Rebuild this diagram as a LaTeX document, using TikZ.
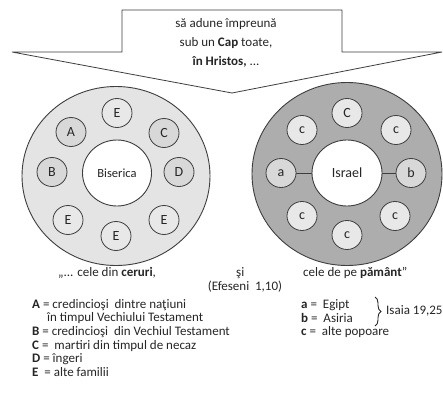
\documentclass[tikz,border=0pt]{standalone}
\usepackage{fontspec}
\setmainfont{Carlito}
\usetikzlibrary{shapes.geometric,decorations.pathreplacing}
\definecolor{lineC}{HTML}{3E3E3E}
\definecolor{outerL}{HTML}{E4E4E4}
\definecolor{outerR}{HTML}{ADADAD}
\definecolor{smallPlain}{HTML}{E8E8E8}
\definecolor{smallTex}{HTML}{D8D8D8}
\definecolor{txt}{HTML}{262626}
\begin{document}
\begin{tikzpicture}[x=1pt,y=-1pt,
  every node/.style={text=txt},
  outerring/.style={ellipse,draw=lineC,line width=0.9pt,inner sep=0pt},
  innerdisc/.style={ellipse,draw=lineC,line width=0.9pt,fill=white,inner sep=0pt,minimum width=69pt,minimum height=66pt,font=\fontsize{12.5}{14}\selectfont},
  member/.style={ellipse,draw=lineC,line width=0.8pt,inner sep=0pt,minimum width=30pt,minimum height=29pt,font=\fontsize{14}{16}\selectfont},
  plainm/.style={member,fill=smallPlain},
  texm/.style={member,fill=smallTex},
  calltext/.style={font=\fontsize{13}{15}\selectfont},
  legend/.style={anchor=west,inner sep=0pt,font=\fontsize{13}{15}\selectfont},
  link/.style={draw=lineC,line width=0.9pt}
]
\useasboundingbox[fill=white] (0,0) rectangle (443,401);

% callout
\draw[draw=lineC,line width=0.8pt,fill=white,line join=miter]
  (122,10) -- (342,10) -- (342,52) -- (442,52) -- (232,93) -- (12,52) -- (122,52) -- cycle;
\node[calltext] (t1) at (226,24) {să adune împreună};
\node[calltext] (t2) at (226,43) {sub un \textbf{Cap} toate,};
\node[calltext] (t3) at (226,62) {\textbf{în Hristos,} ...};

% left ring
\node[outerring,fill=outerL,minimum width=188pt,minimum height=179pt] (ringL) at (116,176) {};
\node[innerdisc] (bis) at (117,173) {Biserica};
\node[plainm] (e1) at (117,113) {E};
\node[texm] (A) at (71,132) {A};
\node[texm] (C) at (164,133) {C};
\node[texm] (B) at (52,172) {B};
\node[texm] (D) at (179,172) {D};
\node[plainm] (e2) at (68,220) {E};
\node[plainm] (e3) at (116,236) {E};
\node[plainm] (e4) at (164,220) {E};

% right ring
\node[outerring,fill=outerR,minimum width=190pt,minimum height=183pt] (ringR) at (347,174) {};
\node[innerdisc,minimum width=70pt,font=\fontsize{14}{16}\selectfont] (isr) at (347,173) {Israel};
\node[plainm] (c0) at (347,113) {C};
\node[plainm] (c1) at (302,130) {c};
\node[plainm] (c2) at (396,130) {c};
\node[texm] (a) at (281,173) {a};
\node[texm] (b) at (411,173) {b};
\node[plainm] (c3) at (302,216) {c};
\node[plainm] (c4) at (347,235) {c};
\node[plainm] (c5) at (395,216) {c};
\draw[link] (a) -- (isr);
\draw[link] (isr) -- (b);

% quotation
\node[legend] (q1) at (58,273) {„... cele  din \textbf{ceruri},};
\node[legend] (q2) at (236,273) {şi};
\node[legend,anchor=center] (q3) at (245,287) {(Efeseni\ \ 1,10)};
\node[legend] (q4) at (303,273) {cele  de pe \textbf{pământ}”};

% legend left
\node[legend] (lA) at (32,305) {\textbf{A} = credincioşi\ \ dintre naţiuni};
\node[legend] (lA2) at (47,318) {în timpul Vechiului Testament};
\node[legend] (lB) at (32,332) {\textbf{B} = credincioşi\ \ din Vechiul Testament};
\node[legend] (lC) at (32,346) {\textbf{C} =\ \ martiri din timpul de necaz};
\node[legend] (lD) at (32,359) {\textbf{D} = îngeri};
\node[legend] (lE) at (32,372) {\textbf{E}\ \ = alte familii};

% legend right
\node[legend] (la) at (301,305) {\textbf{a} =\ \ Egipt};
\node[legend] (lb) at (301,318) {\textbf{b} =\ \ Asiria};
\node[legend] (lc) at (301,332) {\textbf{c} =\ \ alte popoare};
\coordinate (brT) at (375,297);
\coordinate (brB) at (375,326);
\draw[draw=txt,line width=0.9pt,decorate,decoration={brace,amplitude=6pt}] (brT) -- (brB);
\node[legend] (isa) at (386,311) {Isaia 19,25};
\end{tikzpicture}
\end{document}
